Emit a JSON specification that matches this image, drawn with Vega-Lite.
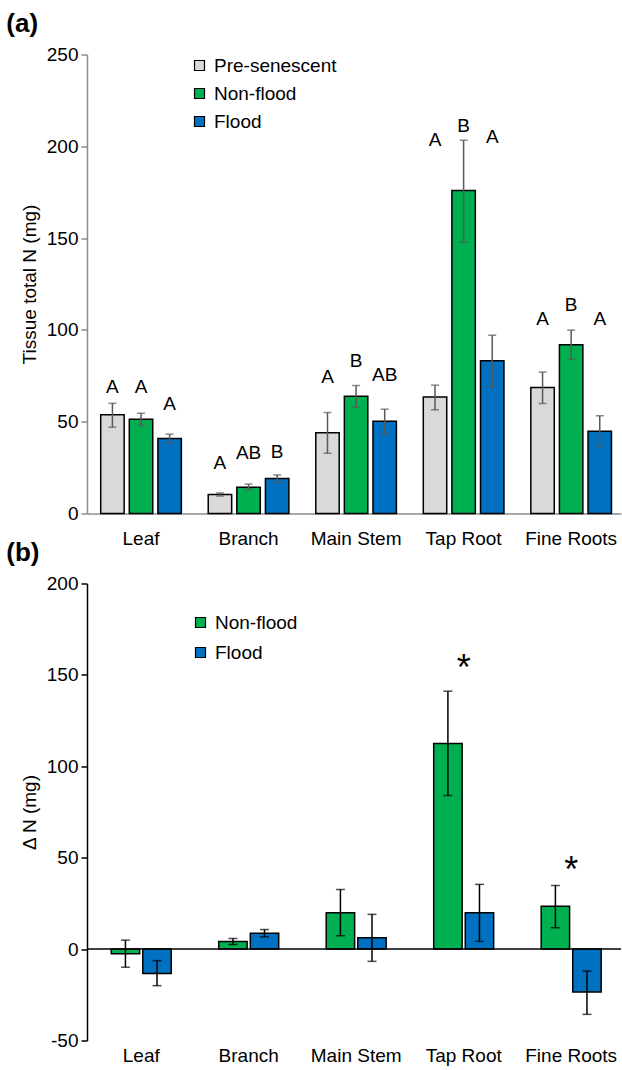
{
  "$schema": "https://vega.github.io/schema/vega-lite/v6.json",
  "padding": {"left": 6, "top": 10.5, "right": 0, "bottom": 0},
  "config": {"font": "Liberation Sans", "view": {"stroke": null}, "concat": {"spacing": -9}},
  "datasets": {
    "a": [
      {"tissue": "Leaf", "group": "Pre-senescent", "value": 53.8, "lo": 47, "hi": 60, "letter": "A", "letter_y": 69},
      {"tissue": "Leaf", "group": "Non-flood", "value": 51.4, "lo": 48, "hi": 54.6, "letter": "A", "letter_y": 69},
      {"tissue": "Leaf", "group": "Flood", "value": 40.8, "lo": 38.3, "hi": 43.2, "letter": "A", "letter_y": 59.4},
      {"tissue": "Branch", "group": "Pre-senescent", "value": 10.3, "lo": 9.5, "hi": 11.2, "letter": "A", "letter_y": 27.4},
      {"tissue": "Branch", "group": "Non-flood", "value": 14.3, "lo": 13, "hi": 16, "letter": "AB", "letter_y": 32.8},
      {"tissue": "Branch", "group": "Flood", "value": 19, "lo": 17, "hi": 21, "letter": "B", "letter_y": 33.4},
      {"tissue": "Main Stem", "group": "Pre-senescent", "value": 44, "lo": 32.8, "hi": 55, "letter": "A", "letter_y": 74.2},
      {"tissue": "Main Stem", "group": "Non-flood", "value": 63.9, "lo": 57.9, "hi": 69.7, "letter": "B", "letter_y": 82.8},
      {"tissue": "Main Stem", "group": "Flood", "value": 50.3, "lo": 43.2, "hi": 56.8, "letter": "AB", "letter_y": 75.2},
      {"tissue": "Tap Root", "group": "Pre-senescent", "value": 63.4, "lo": 56.5, "hi": 69.9, "letter": "A", "letter_y": 203.2},
      {"tissue": "Tap Root", "group": "Non-flood", "value": 175.9, "lo": 147.8, "hi": 203.3, "letter": "B", "letter_y": 211.3},
      {"tissue": "Tap Root", "group": "Flood", "value": 83.2, "lo": 69, "hi": 97.1, "letter": "A", "letter_y": 205},
      {"tissue": "Fine Roots", "group": "Pre-senescent", "value": 68.6, "lo": 59.9, "hi": 77, "letter": "A", "letter_y": 105.7},
      {"tissue": "Fine Roots", "group": "Non-flood", "value": 91.9, "lo": 83.9, "hi": 99.9, "letter": "B", "letter_y": 113.8},
      {"tissue": "Fine Roots", "group": "Flood", "value": 44.8, "lo": 36.5, "hi": 53.2, "letter": "A", "letter_y": 106}
    ],
    "b": [
      {"tissue": "Leaf", "group": "Non-flood", "value": -2.6, "lo": -9.9, "hi": 4.9},
      {"tissue": "Leaf", "group": "Flood", "value": -13.3, "lo": -20, "hi": -6.3},
      {"tissue": "Branch", "group": "Non-flood", "value": 4.2, "lo": 2.5, "hi": 5.8},
      {"tissue": "Branch", "group": "Flood", "value": 8.7, "lo": 6.7, "hi": 10.7},
      {"tissue": "Main Stem", "group": "Non-flood", "value": 19.9, "lo": 7.3, "hi": 32.6},
      {"tissue": "Main Stem", "group": "Flood", "value": 6.2, "lo": -6.7, "hi": 19},
      {"tissue": "Tap Root", "group": "Non-flood", "value": 112.5, "lo": 84, "hi": 141.1},
      {"tissue": "Tap Root", "group": "Flood", "value": 19.9, "lo": 4.2, "hi": 35.4},
      {"tissue": "Fine Roots", "group": "Non-flood", "value": 23.5, "lo": 11.7, "hi": 34.8},
      {"tissue": "Fine Roots", "group": "Flood", "value": -23.5, "lo": -35.7, "hi": -12}
    ],
    "stars": [
      {"tissue": "Tap Root", "star": "*", "y": 156.5},
      {"tissue": "Fine Roots", "star": "*", "y": 46}
    ]
  },
  "vconcat": [
    {
      "title": {"text": "(a)", "anchor": "start", "fontSize": 26, "fontWeight": "bold", "frame": "bounds", "offset": 9, "dx": -14},
      "width": 534,
      "height": 459,
      "data": {"name": "a"},
      "layer": [
        {
          "mark": {"type": "bar", "stroke": "black", "strokeWidth": 1.5},
          "encoding": {
            "x": {"field": "tissue", "type": "nominal", "sort": ["Leaf", "Branch", "Main Stem", "Tap Root", "Fine Roots"], "scale": {"paddingInner": 0.25, "paddingOuter": 0.108, "align": 0.59}, "title": null,
              "axis": {"labelAngle": 0, "labelFontSize": 19, "labelColor": "black", "ticks": false, "domainColor": "#8c8c8c", "domainWidth": 1.5, "labelPadding": 16}},
            "xOffset": {"field": "group", "sort": ["Pre-senescent", "Non-flood", "Flood"], "scale": {"paddingInner": 0.18, "paddingOuter": 0}},
            "y": {"field": "value", "type": "quantitative", "scale": {"domain": [0, 250], "nice": false}, "title": "Tissue total N (mg)",
              "axis": {"values": [0, 50, 100, 150, 200, 250], "grid": false, "labelFontSize": 19, "labelColor": "black", "tickSize": 6, "tickColor": "#8c8c8c", "domainColor": "#8c8c8c", "domainWidth": 1.5, "tickWidth": 1.5, "labelPadding": 3, "titleFontSize": 19, "titleFontWeight": "normal", "titleColor": "black", "titlePadding": 7}},
            "color": {"field": "group", "type": "nominal", "scale": {"domain": ["Pre-senescent", "Non-flood", "Flood"], "range": ["#d9d9d9", "#00b050", "#0070c0"]},
              "legend": {"orient": "none", "legendX": 103, "legendY": 1.5, "title": null, "symbolType": "square", "symbolSize": 100, "symbolStrokeColor": "black", "symbolStrokeWidth": 1.2, "labelFontSize": 19, "labelColor": "black", "rowPadding": 8, "labelOffset": 5, "padding": 0}}
          }
        },
        {
          "mark": {"type": "rule", "color": "#595959", "strokeWidth": 1.5},
          "encoding": {
            "x": {"field": "tissue", "type": "nominal", "sort": ["Leaf", "Branch", "Main Stem", "Tap Root", "Fine Roots"]},
            "xOffset": {"field": "group", "sort": ["Pre-senescent", "Non-flood", "Flood"]},
            "y": {"field": "lo", "type": "quantitative", "scale": {"domain": [0, 250], "nice": false}, "title": "Tissue total N (mg)"},
            "y2": {"field": "hi"}
          }
        },
        {
          "mark": {"type": "tick", "orient": "horizontal", "color": "#595959", "size": 8, "thickness": 1.5},
          "encoding": {
            "x": {"field": "tissue", "type": "nominal", "sort": ["Leaf", "Branch", "Main Stem", "Tap Root", "Fine Roots"]},
            "xOffset": {"field": "group", "sort": ["Pre-senescent", "Non-flood", "Flood"]},
            "y": {"field": "lo", "type": "quantitative", "scale": {"domain": [0, 250], "nice": false}, "title": "Tissue total N (mg)"}
          }
        },
        {
          "mark": {"type": "tick", "orient": "horizontal", "color": "#595959", "size": 8, "thickness": 1.5},
          "encoding": {
            "x": {"field": "tissue", "type": "nominal", "sort": ["Leaf", "Branch", "Main Stem", "Tap Root", "Fine Roots"]},
            "xOffset": {"field": "group", "sort": ["Pre-senescent", "Non-flood", "Flood"]},
            "y": {"field": "hi", "type": "quantitative", "scale": {"domain": [0, 250], "nice": false}, "title": "Tissue total N (mg)"}
          }
        },
        {
          "mark": {"type": "text", "fontSize": 19, "baseline": "middle", "color": "black"},
          "encoding": {
            "x": {"field": "tissue", "type": "nominal", "sort": ["Leaf", "Branch", "Main Stem", "Tap Root", "Fine Roots"]},
            "xOffset": {"field": "group", "sort": ["Pre-senescent", "Non-flood", "Flood"]},
            "y": {"field": "letter_y", "type": "quantitative", "scale": {"domain": [0, 250], "nice": false}, "title": "Tissue total N (mg)"},
            "text": {"field": "letter"}
          }
        }
      ]
    },
    {
      "title": {"text": "(b)", "anchor": "start", "fontSize": 26, "fontWeight": "bold", "frame": "bounds", "offset": 9, "dx": -14},
      "width": 534,
      "height": 457,
      "layer": [
        {
          "data": {"name": "b"},
          "mark": {"type": "bar", "stroke": "black", "strokeWidth": 1.5},
          "encoding": {
            "x": {"field": "tissue", "type": "nominal", "sort": ["Leaf", "Branch", "Main Stem", "Tap Root", "Fine Roots"], "scale": {"paddingInner": 0.442, "paddingOuter": 0.205, "align": 0.55}, "title": null,
              "axis": {"labelAngle": 0, "labelFontSize": 19, "labelColor": "black", "ticks": false, "domain": false, "labelPadding": 6}},
            "xOffset": {"field": "group", "sort": ["Non-flood", "Flood"], "scale": {"paddingInner": 0.1, "paddingOuter": 0}},
            "y": {"field": "value", "type": "quantitative", "scale": {"domain": [-50, 200], "nice": false}, "title": "Δ N (mg)",
              "axis": {"values": [-50, 0, 50, 100, 150, 200], "labelExpr": "replace(datum.label, '−', '-')", "grid": false, "labelFontSize": 19, "labelColor": "black", "tickSize": 6, "tickColor": "black", "domainColor": "black", "domainWidth": 1.5, "tickWidth": 1.5, "labelPadding": 3, "titleFontSize": 19, "titleFontWeight": "normal", "titleColor": "black", "titlePadding": 7}},
            "color": {"field": "group", "type": "nominal", "scale": {"domain": ["Non-flood", "Flood"], "range": ["#00b050", "#0070c0"]},
              "legend": {"orient": "none", "legendX": 104, "legendY": 29.5, "title": null, "symbolType": "square", "symbolSize": 100, "symbolStrokeColor": "black", "symbolStrokeWidth": 1.2, "labelFontSize": 19, "labelColor": "black", "rowPadding": 10, "labelOffset": 5, "padding": 0}}
          }
        },
        {
          "data": {"values": [{"zero": 0}]},
          "mark": {"type": "rule", "color": "black", "strokeWidth": 1.5},
          "encoding": {"y": {"field": "zero", "type": "quantitative", "scale": {"domain": [-50, 200], "nice": false}, "title": "Δ N (mg)"}}
        },
        {
          "data": {"name": "b"},
          "mark": {"type": "rule", "color": "black", "strokeWidth": 1.5},
          "encoding": {
            "x": {"field": "tissue", "type": "nominal", "sort": ["Leaf", "Branch", "Main Stem", "Tap Root", "Fine Roots"]},
            "xOffset": {"field": "group", "sort": ["Non-flood", "Flood"]},
            "y": {"field": "lo", "type": "quantitative", "scale": {"domain": [-50, 200], "nice": false}, "title": "Δ N (mg)"},
            "y2": {"field": "hi"}
          }
        },
        {
          "data": {"name": "b"},
          "mark": {"type": "tick", "orient": "horizontal", "color": "black", "size": 9, "thickness": 1.5},
          "encoding": {
            "x": {"field": "tissue", "type": "nominal", "sort": ["Leaf", "Branch", "Main Stem", "Tap Root", "Fine Roots"]},
            "xOffset": {"field": "group", "sort": ["Non-flood", "Flood"]},
            "y": {"field": "lo", "type": "quantitative", "scale": {"domain": [-50, 200], "nice": false}, "title": "Δ N (mg)"}
          }
        },
        {
          "data": {"name": "b"},
          "mark": {"type": "tick", "orient": "horizontal", "color": "black", "size": 9, "thickness": 1.5},
          "encoding": {
            "x": {"field": "tissue", "type": "nominal", "sort": ["Leaf", "Branch", "Main Stem", "Tap Root", "Fine Roots"]},
            "xOffset": {"field": "group", "sort": ["Non-flood", "Flood"]},
            "y": {"field": "hi", "type": "quantitative", "scale": {"domain": [-50, 200], "nice": false}, "title": "Δ N (mg)"}
          }
        },
        {
          "data": {"name": "stars"},
          "mark": {"type": "text", "fontSize": 36, "baseline": "middle", "dy": 6, "color": "black"},
          "encoding": {
            "x": {"field": "tissue", "type": "nominal", "sort": ["Leaf", "Branch", "Main Stem", "Tap Root", "Fine Roots"]},
            "y": {"field": "y", "type": "quantitative", "scale": {"domain": [-50, 200], "nice": false}, "title": "Δ N (mg)"},
            "text": {"field": "star"}
          }
        }
      ]
    }
  ],
  "resolve": {"scale": {"color": "independent", "x": "independent", "xOffset": "independent"}, "legend": {"color": "independent"}}
}
